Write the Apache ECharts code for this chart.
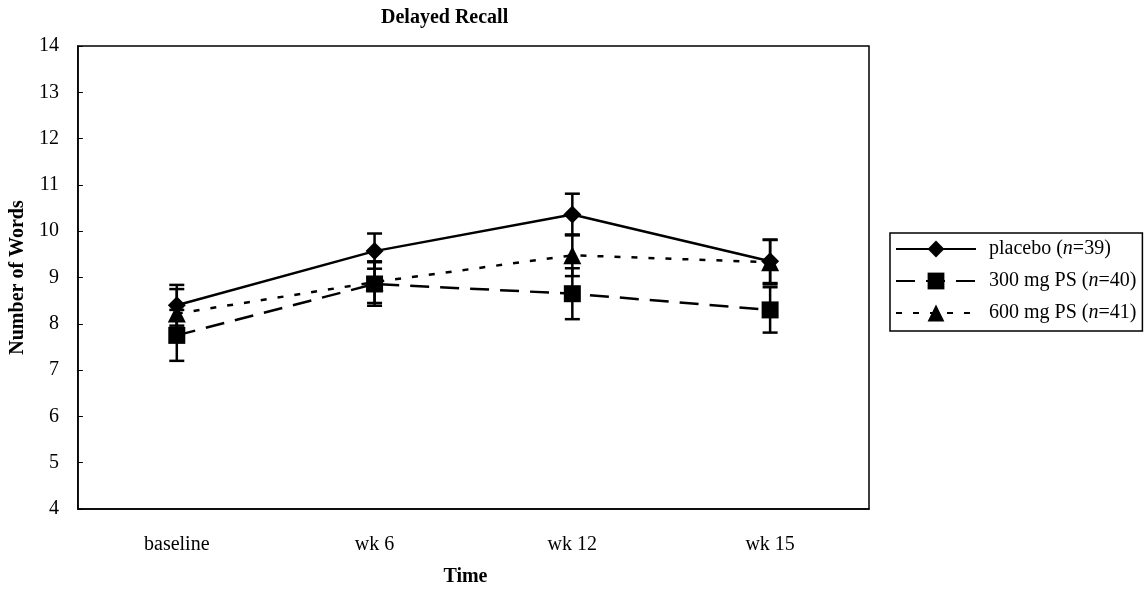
<!DOCTYPE html>
<html>
<head>
<meta charset="utf-8">
<title>Delayed Recall</title>
<script src="https://cdn.jsdelivr.net/npm/echarts@6/dist/echarts.min.js"></script>
<style>
  html, body { margin: 0; padding: 0; background: #fff; }
  #chart { width: 1146px; height: 592px; }
</style>
</head>
<body>
<div id="chart"></div>
<script>
// categories and values
const times = ['baseline', 'wk 6', 'wk 12', 'wk 15']
const seriesNames = ['placebo (n=39)', '300 mg PS (n=40)', '600 mg PS (n=41)']
const placebo = [8.4, 9.57, 10.36, 9.35]
const placeboErr = [0.44, 0.38, 0.45, 0.47]
const ps300 = [7.75, 8.86, 8.65, 8.3]
const ps300Err = [0.55, 0.47, 0.55, 0.49]
const ps600 = [8.22, 8.9, 9.48, 9.33]
const ps600Err = [0.53, 0.45, 0.45, 0.48]
const yTicks = [4, 5, 6, 7, 8, 9, 10, 11, 12, 13, 14]

const font = 'Liberation Serif'

// error bar data: [x index, mean, error]
const errData = (means, errs) => means.map((m, i) => [i, m, errs[i]])

const renderErrorBar = (params, api) => {
  const x = api.value(0)
  const m = api.value(1)
  const e = api.value(2)
  const top = api.coord([x, m + e])
  const bottom = api.coord([x, m - e])
  const half = 7.5
  const style = { stroke: '#000', lineWidth: 2.5 }
  return {
    type: 'group',
    children: [
      { type: 'line', shape: { x1: top[0], y1: top[1], x2: bottom[0], y2: bottom[1] }, style },
      { type: 'line', shape: { x1: top[0] - half, y1: top[1], x2: top[0] + half, y2: top[1] }, style },
      { type: 'line', shape: { x1: bottom[0] - half, y1: bottom[1], x2: bottom[0] + half, y2: bottom[1] }, style }
    ]
  }
}

const errSeries = (means, errs) => ({
  type: 'custom',
  renderItem: renderErrorBar,
  data: errData(means, errs),
  silent: true,
  z: 1
})

const lineSeries = (name, data, symbol, size, dash) => ({
  name: name,
  type: 'line',
  data: data,
  symbol: symbol,
  symbolSize: size,
  showAllSymbol: true,
  itemStyle: { color: '#000' },
  lineStyle: { color: '#000', width: 2.5, type: dash },
  z: 3
})

const chart = echarts.init(document.getElementById('chart'))

const option = {
  animation: false,
  backgroundColor: '#fff',
  title: {
    text: 'Delayed Recall',
    left: 376,
    top: 3,
    textStyle: { fontFamily: font, fontWeight: 'bold', fontSize: 20, color: '#000' }
  },
  legend: {
    orient: 'vertical',
    left: 890,
    top: 233,
    data: seriesNames,
    itemWidth: 80,
    itemHeight: 21,
    itemGap: 8,
    padding: [4, 6, 6, 5],
    borderColor: '#000',
    borderWidth: 1.5,
    borderRadius: 0,
    formatter: name => {
      const m = name.match(/^(.*\()n(=\d+\))$/)
      return m ? m[1] + '{i|n}' + m[2] : name
    },
    textStyle: {
      fontFamily: font,
      fontSize: 20,
      color: '#000',
      padding: [0, 0, 0, 8],
      lineHeight: 24,
      rich: {
        i: { fontFamily: font, fontSize: 20, fontStyle: 'italic', color: '#000' }
      }
    }
  },
  grid: {
    left: 77,
    right: 277,
    top: 46,
    bottom: 81,
    show: true,
    borderColor: '#000',
    borderWidth: 1.5
  },
  xAxis: {
    type: 'category',
    data: times,
    boundaryGap: true,
    name: 'Time',
    nameLocation: 'middle',
    nameGap: 58,
    nameTextStyle: { fontFamily: font, fontWeight: 'bold', fontSize: 20, color: '#000', padding: [0, 16, 0, 0] },
    axisLine: { lineStyle: { color: '#000', width: 1.5 } },
    axisTick: { inside: true, length: 5, lineStyle: { color: '#000' } },
    axisLabel: { fontFamily: font, fontSize: 20, color: '#000', margin: 26 },
    splitLine: { show: false }
  },
  yAxis: {
    type: 'value',
    min: yTicks[0],
    max: yTicks[yTicks.length - 1],
    interval: 1,
    name: 'Number of Words',
    nameLocation: 'middle',
    nameGap: 48,
    nameTextStyle: { fontFamily: font, fontWeight: 'bold', fontSize: 20, color: '#000' },
    axisLine: { show: true, lineStyle: { color: '#000', width: 1.5 } },
    axisTick: { show: true, inside: true, length: 5, lineStyle: { color: '#000' } },
    axisLabel: { fontFamily: font, fontSize: 20, color: '#000', margin: 19 },
    splitLine: { show: false }
  },
  series: [
    errSeries(placebo, placeboErr),
    errSeries(ps300, ps300Err),
    errSeries(ps600, ps600Err),
    lineSeries(seriesNames[0], placebo, 'diamond', [18, 18], 'solid'),
    lineSeries(seriesNames[1], ps300, 'rect', 17, [19, 11]),
    lineSeries(seriesNames[2], ps600, 'triangle', 18, [6, 11])
  ]
}

chart.setOption(option)
</script>
</body>
</html>
